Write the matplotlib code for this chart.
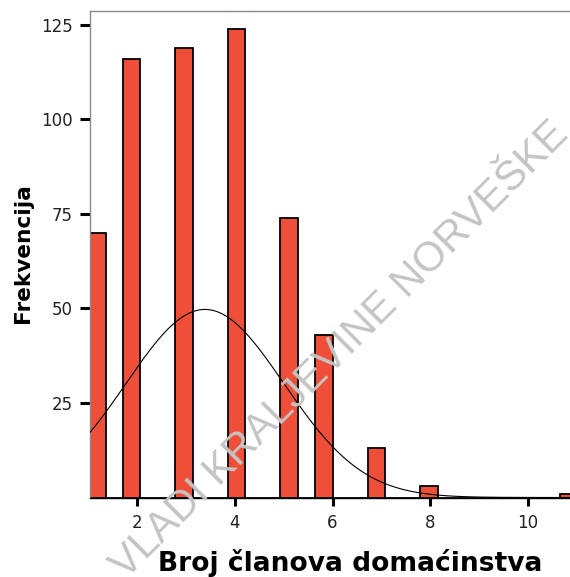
import numpy as np
import matplotlib
matplotlib.use("Agg")
import matplotlib.pyplot as plt

# Household size frequencies
household_size = [1, 2, 3, 4, 5, 6, 7, 8, 11]
frequency = [70, 116, 119, 124, 74, 43, 13, 3, 1]

x_ticks = [2, 4, 6, 8, 10]
y_ticks = [25, 50, 75, 100, 125]

hist_range = (1.0, 11.01)
n_bins = 28
x_limits = (1.04, 11.0)

bar_color = "#EF4E38"
watermark_text = "VLADI KRALJEVINE NORVEŠKE"

W, H = 570, 577
fig = plt.figure(figsize=(W / 100, H / 100), dpi=100)
fig.patch.set_facecolor("white")

# Watermark behind everything
fig.text(340 / W, 1 - 350 / H, watermark_text, rotation=45, rotation_mode="anchor",
         ha="center", va="center", fontsize=30, color="#c4c4c4",
         family="Liberation Sans", zorder=0)

ax = fig.add_axes([90 / W, 1 - 497.5 / H, 487 / W, 486.5 / H])
ax.patch.set_alpha(0)

vals = np.array(household_size, dtype=float)
w = np.array(frequency, dtype=float)
ax.hist(vals, bins=n_bins, range=hist_range, weights=w, color=bar_color,
        edgecolor="black", linewidth=1.3, zorder=2)

# Fitted normal curve
n = w.sum()
mean = (vals * w).sum() / n
sd = np.sqrt(((vals - mean) ** 2 * w).sum() / (n - 1))
bw = (hist_range[1] - hist_range[0]) / n_bins
xs = np.linspace(x_limits[0], x_limits[1], 400)
ys = n * bw / (sd * np.sqrt(2 * np.pi)) * np.exp(-0.5 * ((xs - mean) / sd) ** 2)
ax.plot(xs, ys, color="black", lw=0.8, zorder=3)

ax.set_xlim(x_limits)
ax.set_ylim(0, 128.7)
ax.set_xticks(x_ticks)
ax.set_yticks(y_ticks)
ax.set_xticklabels([str(t) for t in x_ticks])
ax.set_yticklabels([str(t) for t in y_ticks])

for lab in ax.get_xticklabels() + ax.get_yticklabels():
    lab.set_family("Liberation Sans Narrow")
    lab.set_fontsize(12)
    lab.set_color("#222222")

ax.tick_params(axis="y", direction="out", length=7.2, width=2.2, color="black", pad=5)
ax.tick_params(axis="x", direction="out", length=6, width=2.2, color="black", pad=6)

for side in ("left", "top", "right"):
    ax.spines[side].set_color("#8a8a8a")
    ax.spines[side].set_linewidth(1.0)
ax.spines["bottom"].set_color("black")
ax.spines["bottom"].set_linewidth(1.0)

# Axis titles
xl = fig.text(350 / W, 1 - 571 / H, "Broj članova domaćinstva", ha="center", va="baseline",
              fontsize=17, fontweight="bold", family="DejaVu Sans", color="black", zorder=5)
yl = fig.text(23 / W, 1 - 253 / H, "Frekvencija", ha="center", va="center", rotation=90,
              fontsize=16, fontweight="bold", family="DejaVu Sans", color="black", zorder=5)

# Scale titles to their target extents
fig.canvas.draw()
r = fig.canvas.get_renderer()
bb = xl.get_window_extent(r)
xl.set_fontsize(17 * 385 / bb.width)
bb = yl.get_window_extent(r)
yl.set_fontsize(16 * 140 / bb.height)

fig.savefig("out.png", dpi=100, facecolor="white")
